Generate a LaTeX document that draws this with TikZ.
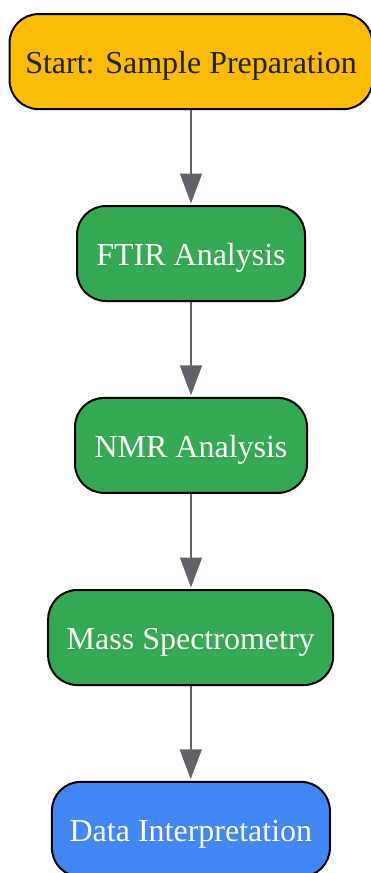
\documentclass[tikz,border=0pt]{standalone}
\usepackage{fontspec}
\setmainfont{Liberation Serif}
\usetikzlibrary{arrows.meta}
\definecolor{gyellow}{HTML}{FBBC05}
\definecolor{ggreen}{HTML}{34A853}
\definecolor{gblue}{HTML}{4285F4}
\definecolor{ggray}{HTML}{5F6368}
\definecolor{darktext}{HTML}{202124}
\tikzset{
  stepbox/.style={draw=black, line width=2pt, rounded corners=29pt,
    minimum height=95pt, inner sep=0pt, align=center,
    text height=23.4pt, text depth=0pt,
    font=\fontsize{32}{38}\selectfont},
  flow/.style={draw=ggray, line width=2.4pt,
    -{Triangle[width=21.7pt,length=30pt]}, shorten >=1.5pt}
}
\begin{document}
\begin{tikzpicture}[x=1pt,y=1pt]
\useasboundingbox (0,0) rectangle (371,-873);
\node[stepbox, fill=gyellow, text=darktext, minimum width=363pt] (start) at (191,-61.6) {Start: Sample Preparation};
\node[stepbox, fill=ggreen, text=white, minimum width=228pt] (ftir) at (191,-253.5) {FTIR Analysis};
\node[stepbox, fill=ggreen, text=white, minimum width=232pt] (nmr) at (191,-445.4) {NMR Analysis};
\node[stepbox, fill=ggreen, text=white, minimum width=285pt] (mass) at (190.7,-637.5) {Mass Spectrometry};
\node[stepbox, fill=gblue, text=white, minimum width=278pt] (data) at (190.9,-829.3) {Data Interpretation};
\draw[flow] (start.south -| ftir.north) -- (ftir.north);
\draw[flow] (ftir) -- (nmr);
\draw[flow] (nmr.south) -- (nmr.south |- mass.north);
\draw[flow] (mass.south) -- (mass.south |- data.north);
\end{tikzpicture}
\end{document}
